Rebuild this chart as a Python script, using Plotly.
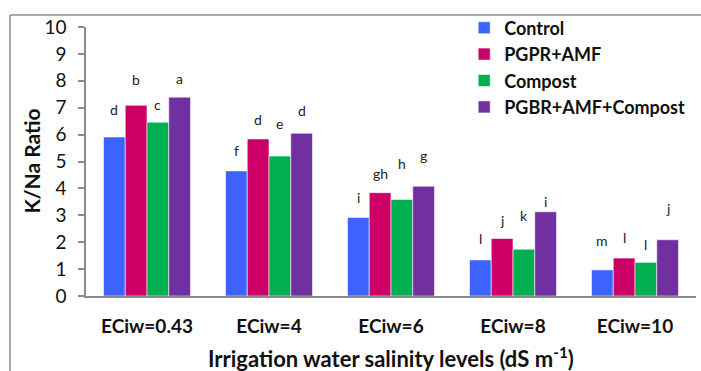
import plotly.graph_objects as go

categories = ["ECiw=0.43", "ECiw=4", "ECiw=6", "ECiw=8", "ECiw=10"]
series_names = ["Control", "PGPR+AMF", "Compost", "PGBR+AMF+Compost"]
colors = ["#3D63FF", "#CC0066", "#00B050", "#7030A0"]

control = [5.91, 4.65, 2.92, 1.34, 0.97]
pgpr_amf = [7.09, 5.84, 3.84, 2.14, 1.41]
compost = [6.46, 5.20, 3.59, 1.74, 1.25]
pgbr_amf_compost = [7.39, 6.05, 4.08, 3.13, 2.09]

# significance letters and their label heights (y centre, in K/Na units)
letters_control = ["d", "f", "i", "l", "m"]
letters_pgpr = ["b", "d", "gh", "j", "l"]
letters_compost = ["c", "e", "h", "k", "l"]
letters_pgbr = ["a", "d", "g", "i", "j"]
label_y_control = [6.94, 5.42, 3.66, 2.12, 2.05]
label_y_pgpr = [8.06, 6.56, 4.56, 2.80, 2.18]
label_y_compost = [7.13, 6.41, 4.93, 3.01, 1.92]
label_y_pgbr = [8.10, 6.88, 5.24, 3.53, 3.26]

values = [control, pgpr_amf, compost, pgbr_amf_compost]
letters = [letters_control, letters_pgpr, letters_compost, letters_pgbr]
label_ys = [label_y_control, label_y_pgpr, label_y_compost, label_y_pgbr]

FONT = "Lato, 'Open Sans', sans-serif"
bargap = 0.287
n = len(series_names)
bw = (1 - bargap) / n
xs = list(range(len(categories)))

fig = go.Figure()
for name, vals, col in zip(series_names, values, colors):
    fig.add_trace(go.Bar(
        x=xs, y=vals, name="<b>%s</b>" % name,
        marker=dict(color=col, line=dict(color="rgba(255,255,255,0.55)", width=1)),
    ))

annotations = []
for i in range(n):
    for j in range(len(categories)):
        annotations.append(dict(
            x=j + (i - (n - 1) / 2) * bw, y=label_ys[i][j], xref="x", yref="y",
            text=letters[i][j], showarrow=False, yanchor="middle", xanchor="center",
            font=dict(family=FONT, size=14, color="#222"),
        ))

annotations.append(dict(
    x=0.5, y=-0.228, xref="paper", yref="paper", showarrow=False,
    text="<b>Irrigation water salinity levels (dS m<sup>-1</sup>)</b>",
    yanchor="middle", xanchor="center",
    font=dict(family=FONT, size=22, color="#111"),
))
annotations.append(dict(
    x=-0.090, y=0.5, xref="paper", yref="paper", showarrow=False,
    text="<b>K/Na Ratio</b>", textangle=-90,
    yanchor="middle", xanchor="center",
    font=dict(family=FONT, size=21, color="#111"),
))

shapes = [
    dict(type="line", xref="paper", yref="paper", x0=-0.1246, x1=1.01, y0=1.0446, y1=1.0446,
         line=dict(color="#8c8c8c", width=1.5)),
    dict(type="line", xref="paper", yref="paper", x0=-0.1246, x1=-0.1246, y0=1.0446, y1=-0.3,
         line=dict(color="#8c8c8c", width=1.5)),
]

fig.update_layout(
    width=701, height=371,
    margin=dict(l=86, r=5, t=27, b=75),
    paper_bgcolor="white", plot_bgcolor="white",
    barmode="group", bargap=bargap, bargroupgap=0,
    font=dict(family=FONT, color="#111"),
    showlegend=True,
    legend=dict(x=0.62, y=1.065, xanchor="left", yanchor="top",
                bgcolor="rgba(0,0,0,0)", font=dict(family=FONT, size=18, color="#111"),
                itemwidth=30, tracegroupgap=0),
    annotations=annotations,
    shapes=shapes,
    xaxis=dict(tickmode="array", tickvals=xs,
               ticktext=["<b>%s</b>" % c for c in categories],
               range=[-0.5, len(categories) - 0.5],
               showline=True, linecolor="#8c8c8c", linewidth=1.5,
               ticks="", showgrid=False, zeroline=False,
               tickfont=dict(family=FONT, size=19, color="#111"), ticklabelstandoff=12),
    yaxis=dict(range=[0, 10], dtick=1, tick0=0,
               showline=True, linecolor="#8c8c8c", linewidth=1.5,
               ticks="outside", ticklen=6, tickcolor="#8c8c8c", tickwidth=1.5,
               showgrid=False, zeroline=False, ticklabelstandoff=8,
               tickfont=dict(family=FONT, size=19, color="#111")),
)

fig.write_html("out.html")
